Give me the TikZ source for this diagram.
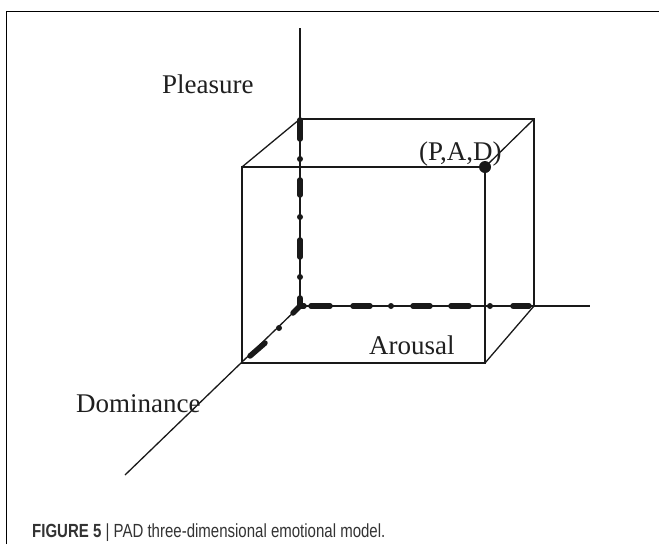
\documentclass[tikz,border=0pt]{standalone}
\usepackage{fontspec}
\setmainfont{Liberation Serif}
\newfontfamily\capfont{Liberation Sans}
\begin{document}
\begin{tikzpicture}[x=1pt,y=-1pt,
  axisline/.style={line width=1.3pt,draw=black!90},
  frameline/.style={line width=1pt,draw=black},
  thickdash/.style={line width=5.5pt,line cap=round,draw=black!90},
  dotmark/.style={fill=black!90},
  lbl/.style={inner sep=0pt,anchor=base west,text=black!88,font=\fontsize{27}{32}\selectfont}]
\useasboundingbox (0,0) rectangle (659,544);
% frame
\coordinate (F1) at (6,544);
\coordinate (F2) at (6,11);
\coordinate (F3) at (659,11);
\draw[frameline] (F1) -- (F2) -- (F3);
% axes
\coordinate (O) at (300,306);
\coordinate (Ptop) at (300,28);
\coordinate (Aend) at (590,306);
\coordinate (Dend) at (125,475);
% cube corners
\coordinate (BTL) at (300,119);
\coordinate (BTR) at (534,119);
\coordinate (BBR) at (534,306);
\coordinate (FTL) at (242,167);
\coordinate (FTR) at (485,167);
\coordinate (FBL) at (242,363);
\coordinate (FBR) at (485,363);
\draw[axisline] (O) -- (Ptop);
\draw[axisline] (O) -- (Aend);
\draw[axisline] (O) -- (Dend);
\draw[axisline] (FTL) -- (FTR) -- (FBR) -- (FBL) -- cycle;
\draw[axisline] (BTL) -- (BTR) -- (BBR);
\draw[axisline] (BTL) -- (FTL);
\draw[axisline] (BTR) -- (FTR);
\draw[axisline] (BBR) -- (FBR);
% thick dash-dot along Pleasure
\draw[thickdash] (300,120) -- (300,139);
\fill[dotmark] (300,159) circle (3);
\draw[thickdash] (300,180) -- (300,195);
\fill[dotmark] (300,217) circle (3);
\draw[thickdash] (300,240) -- (300,257);
\fill[dotmark] (300,277) circle (3);
\draw[thickdash] (300,298) -- (300,306) -- (304,306);
% along Arousal
\draw[thickdash] (311,306) -- (330,306);
\draw[thickdash] (353,306) -- (370,306);
\fill[dotmark] (391,306) circle (3);
\draw[thickdash] (413,306) -- (430,306);
\draw[thickdash] (451,306) -- (469,306);
\fill[dotmark] (490,306) circle (3);
\draw[thickdash] (513,306) -- (529,306);
% along Dominance
\draw[thickdash] (300,306) -- (293,313);
\fill[dotmark] (279,328) circle (3);
\draw[thickdash] (265,343) -- (250,356);
% point
\node[circle,fill=black!90,inner sep=0pt,minimum size=12pt] (pt) at (FTR) {};
% labels
\node[lbl] (lp) at (162,93) {Pleasure};
\node[lbl] (la) at (369,354) {Arousal};
\node[lbl] (ld) at (76,412) {Dominance};
\node[lbl] (lpad) at (419,160) {(P,A,D)};
\node[inner sep=0pt,anchor=base west,text=black!80] (cap) at (32,537)
  {\capfont\fontsize{19}{23}\selectfont\scalebox{0.79}[1]{\textbf{FIGURE 5} | PAD three-dimensional emotional model.}};
\end{tikzpicture}
\end{document}
